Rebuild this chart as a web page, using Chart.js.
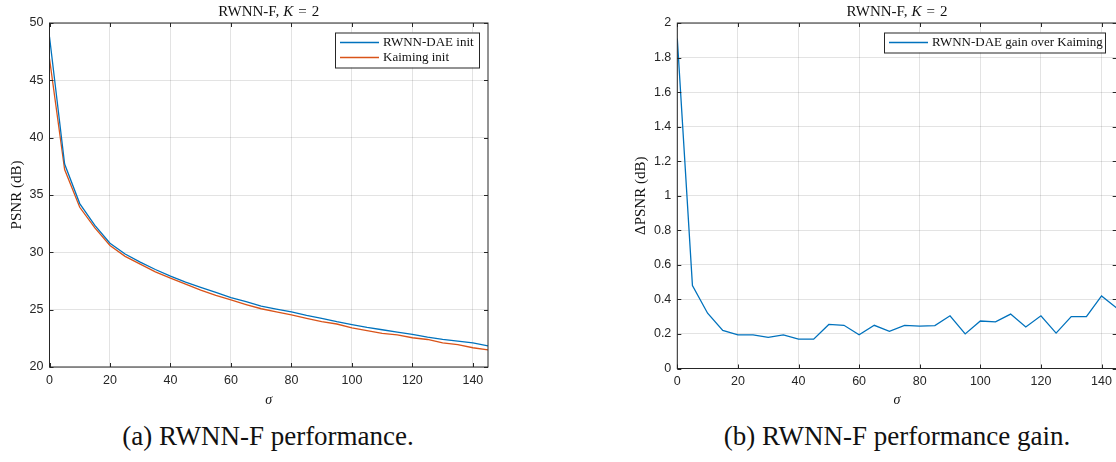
<!DOCTYPE html>
<html>
<head>
<meta charset="utf-8">
<script src="https://cdn.jsdelivr.net/npm/chart.js@4.4.1/dist/chart.umd.min.js"></script>
<style>
  html, body { margin: 0; padding: 0; background: #fff; overflow: hidden; width: 1116px; height: 462px; }
  .box { position: absolute; top: 0; }
  .cap { position: absolute; top: 421px; font-family: "Liberation Serif", "DejaVu Serif", serif; font-size: 27px; color: #111; white-space: nowrap; transform: translateX(-50%); }
</style>
</head>
<body>
<div class="box" style="left:0;width:560px;height:420px"><canvas id="perf"></canvas></div>
<div class="box" style="left:620px;width:520px;height:420px"><canvas id="gain"></canvas></div>
<div class="cap" style="left:268px">(a) RWNN-F performance.</div>
<div class="cap" style="left:897px">(b) RWNN-F performance gain.</div>
<script>
// noise levels (sigma)
var sigma = [0,5,10,15,20,25,30,35,40,45,50,55,60,65,70,75,80,85,90,95,100,105,110,115,120,125,130,135,140,145];
// x-axis tick labels
var xTicks = [0,20,40,60,80,100,120,140];
// PSNR (dB), RWNN-DAE init
var daePsnr = [48.8,37.7,34.25,32.35,30.8,29.85,29.15,28.5,27.92,27.4,26.95,26.5,26.05,25.7,25.3,25.05,24.8,24.5,24.25,23.95,23.7,23.45,23.25,23.05,22.85,22.6,22.4,22.25,22.1,21.85];
// PSNR (dB), Kaiming init
var kaimingPsnr = [46.9,37.22,33.93,32.13,30.6,29.65,28.97,28.3,27.75,27.23,26.7,26.25,25.85,25.45,25.08,24.8,24.55,24.25,23.95,23.75,23.42,23.18,22.94,22.81,22.55,22.4,22.1,21.95,21.68,21.5];
// delta PSNR (dB), DAE over Kaiming
var gainPsnr = [1.91,0.48,0.32,0.22,0.195,0.195,0.18,0.195,0.17,0.17,0.255,0.25,0.195,0.25,0.215,0.25,0.245,0.248,0.305,0.2,0.275,0.27,0.315,0.24,0.305,0.205,0.3,0.3,0.42,0.35];

var blue = '#0072BD', orange = '#D95319', ink = '#262626';
var serif = '"Liberation Serif", serif';
var sans = '"Liberation Sans", Arial, sans-serif';

function pts(ys) { return sigma.map(function (s, i) { return { x: s, y: ys[i] }; }); }

// MATLAB-like box, inward ticks, title, axis labels, legend
var matlabLook = {
  id: 'matlabLook',
  afterDraw: function (chart, args, o) {
    var c = chart.ctx, a = chart.chartArea, xs = chart.scales.x, ys = chart.scales.y;
    c.save();
    c.strokeStyle = ink; c.lineWidth = 1;
    c.strokeRect(a.left, a.top, a.right - a.left, a.bottom - a.top);
    c.beginPath();
    xs.ticks.forEach(function (t) {
      var px = Math.round(xs.getPixelForValue(t.value)) + 0.5;
      c.moveTo(px, a.bottom); c.lineTo(px, a.bottom - 4);
      c.moveTo(px, a.top); c.lineTo(px, a.top + 4);
    });
    ys.ticks.forEach(function (t) {
      var py = Math.round(ys.getPixelForValue(t.value)) + 0.5;
      c.moveTo(a.left, py); c.lineTo(a.left + 4, py);
      c.moveTo(a.right, py); c.lineTo(a.right - 4, py);
    });
    c.stroke();

    // title with italic K and math spacing round "="
    c.fillStyle = '#111'; c.textBaseline = 'middle'; c.textAlign = 'left';
    var parts = [['RWNN-F,', 'normal', 4], ['K', 'italic', 5], ['=', 'normal', 5], ['2', 'normal', 0]];
    var w = 0;
    parts.forEach(function (p) { c.font = p[1] + ' 15px ' + serif; w += c.measureText(p[0]).width + p[2]; });
    var x = (a.left + a.right) / 2 - w / 2;
    parts.forEach(function (p) { c.font = p[1] + ' 15px ' + serif; c.fillText(p[0], x, 12); x += c.measureText(p[0]).width + p[2]; });

    // axis labels
    c.textAlign = 'center';
    c.font = 'italic 14px ' + serif;
    c.fillText('\u03C3', (a.left + a.right) / 2, 400);
    c.save();
    c.translate(o.yLabelX, (a.top + a.bottom) / 2);
    c.rotate(-Math.PI / 2);
    c.font = '15px ' + serif;
    c.fillText(o.yLabel, 0, 0);
    c.restore();

    // legend
    var L = o.legend;
    c.fillStyle = '#fff'; c.fillRect(L.x, L.y, L.w, L.h);
    c.strokeStyle = ink; c.strokeRect(L.x + 0.5, L.y + 0.5, L.w, L.h);
    chart.data.datasets.forEach(function (d, i) {
      var yy = L.y + 10 + i * 15;
      c.strokeStyle = d.borderColor; c.lineWidth = 1.3;
      c.beginPath(); c.moveTo(L.x + 5, yy); c.lineTo(L.x + 44, yy); c.stroke();
      c.fillStyle = '#111'; c.textAlign = 'left'; c.font = '13px ' + serif;
      c.fillText(d.label, L.x + 48, yy);
    });
    c.restore();
  }
};

function opts(cfg) {
  return {
    responsive: true,
    maintainAspectRatio: false,
    animation: false,
    layout: { padding: { top: 23, right: cfg.padRight, left: 0, bottom: 0 } },
    plugins: {
      legend: { display: false },
      tooltip: { enabled: false },
      matlabLook: { yLabel: cfg.yLabel, yLabelX: cfg.yLabelX, legend: cfg.legend }
    },
    scales: {
      x: {
        type: 'linear', min: 0, max: 145,
        afterBuildTicks: function (s) { s.ticks = xTicks.map(function (v) { return { value: v }; }); },
        afterFit: function (s) { s.height = 420 - cfg.bottom; },
        ticks: { padding: 6, color: ink, font: { family: sans, size: 12.5 }, maxRotation: 0, autoSkip: false },
        grid: { color: 'rgba(38,38,38,0.13)', drawTicks: false },
        border: { display: false }
      },
      y: {
        min: cfg.ymin, max: cfg.ymax,
        afterFit: function (s) { s.width = cfg.left; },
        ticks: { stepSize: cfg.ystep, padding: 6, color: ink, font: { family: sans, size: 12.5 },
                 callback: function (v) { return String(Number(v.toFixed(2))); } },
        grid: { color: 'rgba(38,38,38,0.13)', drawTicks: false },
        border: { display: false }
      }
    }
  };
}

new Chart(document.getElementById('perf'), {
  type: 'line',
  data: {
    datasets: [
      { label: 'RWNN-DAE init', data: pts(daePsnr), borderColor: blue, borderWidth: 1.3, pointRadius: 0, fill: false },
      { label: 'Kaiming init', data: pts(kaimingPsnr), borderColor: orange, borderWidth: 1.3, pointRadius: 0, fill: false }
    ]
  },
  options: opts({ left: 49.5, padRight: 72, bottom: 367, ymin: 20, ymax: 50, ystep: 5, yLabel: 'PSNR (dB)', yLabelX: 17,
                  legend: { x: 335, y: 32.5, w: 144, h: 35 } }),
  plugins: [matlabLook]
});

new Chart(document.getElementById('gain'), {
  type: 'line',
  data: {
    datasets: [
      { label: 'RWNN-DAE gain over Kaiming', data: pts(gainPsnr), borderColor: blue, borderWidth: 1.3, pointRadius: 0, fill: false }
    ]
  },
  options: opts({ left: 57.3, padRight: 23.3, bottom: 368.5, ymin: 0, ymax: 2, ystep: 0.2, yLabel: '\u0394PSNR (dB)', yLabelX: 21,
                  legend: { x: 264, y: 32.5, w: 221, h: 20 } }),
  plugins: [matlabLook]
});
</script>
</body>
</html>
